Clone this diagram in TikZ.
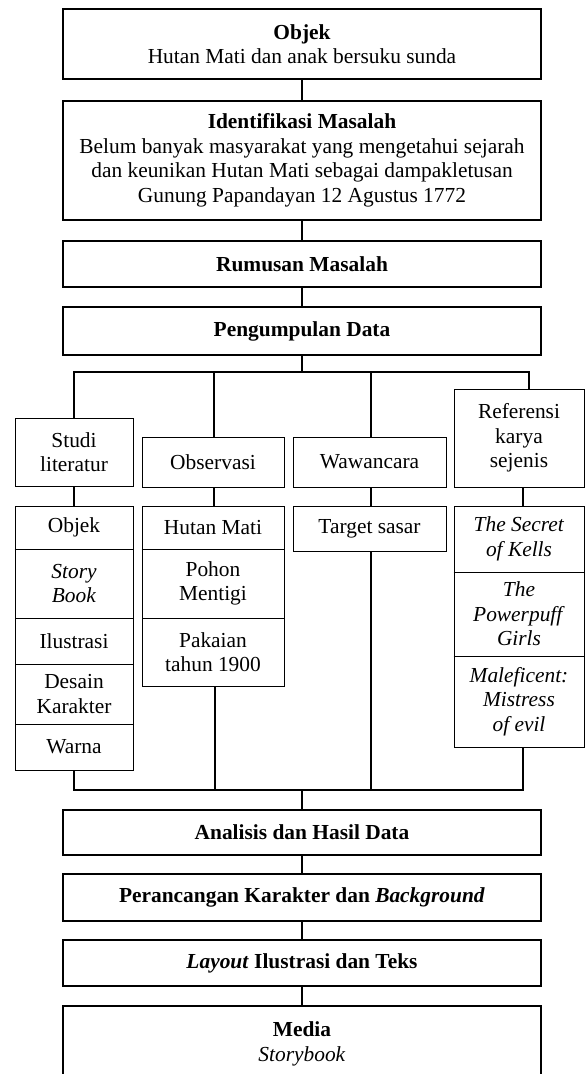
\documentclass[tikz,border=0pt]{standalone}
\usepackage{fontspec}
\setmainfont{Liberation Serif}
\begin{document}
\begin{tikzpicture}[x=1pt,y=-1pt,
  every node/.style={font=\fontsize{21.4}{24.5}\selectfont, align=center, inner sep=0pt},
  mainthick/.style={draw, line width=1.8pt, minimum width=478pt},
  mainthin/.style={draw, line width=1.3pt, minimum width=478pt},
  cell/.style={draw, line width=1pt},
  sep/.style={line width=1.8pt},
  conthick/.style={line width=1.6pt},
  con/.style={line width=1.1pt}]
\useasboundingbox (0,0) rectangle (585,1074);
% main boxes
\node[mainthick, minimum height=70pt] (obj) at (302,44) {\textbf{Objek}\\Hutan Mati dan anak bersuku sunda};
\node[mainthick, minimum height=119pt] (idf) at (302,160.5) {\textbf{Identifikasi Masalah}\\Belum banyak masyarakat yang mengetahui sejarah\\dan keunikan Hutan Mati sebagai dampakletusan\\Gunung Papandayan 12 Agustus 1772};
\node[mainthick, minimum height=46pt] (rum) at (302,264) {\textbf{Rumusan Masalah}};
\node[mainthick, minimum height=48pt] (peng) at (302,331) {\textbf{Pengumpulan Data}};
% column heads
\node[cell, minimum width=118pt, minimum height=68pt] (studi) at (74,452) {Studi\\literatur};
\node[cell, minimum width=142pt, minimum height=50pt] (obs) at (213,462) {Observasi};
\node[cell, minimum width=153pt, minimum height=50pt] (waw) at (369.5,462) {Wawancara};
\node[cell, minimum width=130pt, minimum height=98pt] (ref) at (519,438) {Referensi\\karya\\sejenis};
% studi cells
\node[cell, minimum width=118pt, minimum height=43pt] (s1) at (74,527.5) {Objek};
\node[cell, minimum width=118pt, minimum height=69pt] (s2) at (74,583.5) {\textit{Story}\\\textit{Book}};
\node[cell, minimum width=118pt, minimum height=46pt] (s3) at (74,641) {Ilustrasi};
\node[cell, minimum width=118pt, minimum height=60pt] (s4) at (74,694) {Desain\\Karakter};
\node[cell, minimum width=118pt, minimum height=46pt] (s5) at (74,747) {Warna};
% observasi cells
\node[cell, minimum width=142pt, minimum height=43pt] (o1) at (213,527.5) {Hutan Mati};
\node[cell, minimum width=142pt, minimum height=69pt] (o2) at (213,583.5) {Pohon\\Mentigi};
\node[cell, minimum width=142pt, minimum height=68pt] (o3) at (213,652) {Pakaian\\tahun 1900};
% wawancara cell
\node[cell, minimum width=153pt, minimum height=45pt] (w1) at (369.5,528.5) {Target sasar};
% referensi cells
\node[cell, minimum width=130pt, minimum height=66pt] (r1) at (519,539) {\textit{The Secret}\\\textit{of Kells}};
\node[cell, minimum width=130pt, minimum height=84pt] (r2) at (519,614) {\textit{The}\\\textit{Powerpuff}\\\textit{Girls}};
\node[cell, minimum width=130pt, minimum height=91pt] (r3) at (519,701.5) {\textit{Maleficent:}\\\textit{Mistress}\\\textit{of evil}};
% thicker cell separators
\draw[sep] (s1.south west) -- (s1.south east);
\draw[sep] (o1.south west) -- (o1.south east);
\draw[sep] (r1.south west) -- (r1.south east);
\draw[sep] (r2.south west) -- (r2.south east);
% lower main boxes
\node[mainthin, minimum height=45pt] (anal) at (302,832.5) {\textbf{Analisis dan Hasil Data}};
\node[mainthin, minimum height=47pt] (per) at (302,897.5) {\textbf{Perancangan Karakter dan \textit{Background}}};
\node[mainthin, minimum height=46pt] (lay) at (302,963) {\textbf{\textit{Layout} Ilustrasi dan Teks}};
\node[mainthin, minimum height=76pt] (media) at (302,1044) {\textbf{Media}\\\textit{Storybook}};
% connectors top
\draw[conthick] (obj.south) -- (idf.north);
\draw[conthick] (idf.south) -- (rum.north);
\draw[conthick] (rum.south) -- (peng.north);
\coordinate (bus1) at (302,372);
\draw[con] (peng.south) -- (bus1);
\draw[con] (studi.north) |- (bus1);
\draw[con] ([xshift=1pt]obs.north) -- ([xshift=1pt]obs.north |- bus1);
\draw[con] ([xshift=1.5pt]waw.north) -- ([xshift=1.5pt]waw.north |- bus1);
\draw[con] ([xshift=10pt]ref.north) |- (bus1);
% head to cells
\draw[con] (studi.south) -- (s1.north);
\draw[con] ([xshift=1pt]obs.south) -- ([xshift=1pt]o1.north);
\draw[con] ([xshift=1.5pt]waw.south) -- ([xshift=1.5pt]w1.north);
\draw[con] ([xshift=4pt]ref.south) -- ([xshift=4pt]r1.north);
% bottom bus
\coordinate (bus2) at (302,790);
\draw[con] (s5.south) |- (bus2);
\draw[con] ([xshift=2pt]o3.south) -- ([xshift=2pt]o3.south |- bus2);
\draw[con] ([xshift=1.5pt]w1.south) -- ([xshift=1.5pt]w1.south |- bus2);
\draw[con] ([xshift=4pt]r3.south) |- (bus2);
\draw[con] (bus2) -- (anal.north);
\draw[con] (anal.south) -- (per.north);
\draw[con] (per.south) -- (lay.north);
\draw[con] (lay.south) -- (media.north);
\end{tikzpicture}
\end{document}
